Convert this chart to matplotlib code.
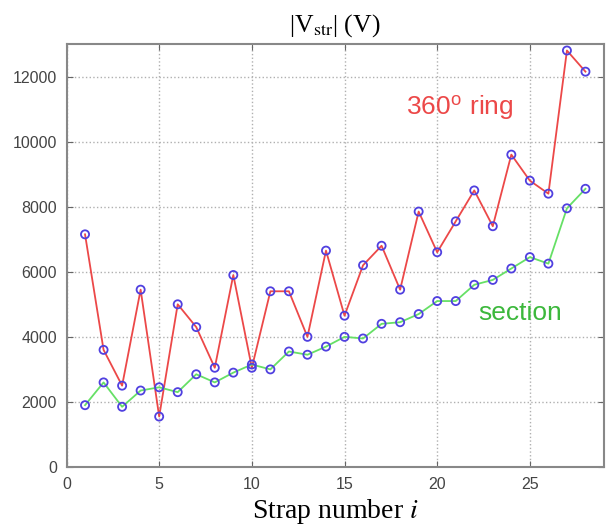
## strap voltage figure: 360 deg ring vs section
import matplotlib
matplotlib.use('Agg')
from matplotlib import pyplot as plt

# -----------------------------------------------------------------------------
# data
strap = list(range(1, 29))
v_ring = [7150, 3600, 2500, 5450, 1550, 5000, 4300, 3050, 5900, 3050,
          5400, 5400, 4000, 6650, 4650, 6200, 6800, 5450, 7850, 6600,
          7550, 8500, 7400, 9600, 8800, 8400, 12800, 12150]
v_sect = [1900, 2600, 1850, 2350, 2450, 2300, 2850, 2600, 2900, 3150,
          3000, 3550, 3450, 3700, 4000, 3950, 4400, 4450, 4700, 5100,
          5100, 5600, 5750, 6100, 6450, 6250, 7950, 8550]
xticks = [0, 5, 10, 15, 20, 25]
yticks = [0, 2000, 4000, 6000, 8000, 10000, 12000]

# -----------------------------------------------------------------------------
plt.rcParams['mathtext.fontset'] = 'stix'
fig = plt.figure(figsize=(6.07, 5.28), dpi=100)
ax = fig.add_axes([66.5/607, 1-467/528, (604-66.5)/607, (467-44)/528])

ax.plot(strap, v_ring, linestyle='-', linewidth=1.3, color='#ec4848')
ax.plot(strap, v_sect, linestyle='-', linewidth=1.3, color='#66e066')
ax.scatter(strap, v_ring, marker='o', s=34, facecolor='none',
    edgecolor='#5040e0', linewidth=1.3, zorder=3)
ax.scatter(strap, v_sect, marker='o', s=34, facecolor='none',
    edgecolor='#5040e0', linewidth=1.3, zorder=3)

ax.text(21.2, 11050, r'360$^{\mathregular{o}}$ ring', color='#ec4848',
    fontsize=19, family='Liberation Sans', ha='center', va='center')
ax.text(24.5, 4720, 'section', color='#3cb83c',
    fontsize=19, family='Liberation Sans', ha='center', va='center')

ax.set_xlim(0, 29)
ax.set_ylim(0, 13000)
ax.set_xticks(xticks)
ax.set_yticks(yticks)
ax.grid(True, linestyle=':', color='#b0b0b0', linewidth=1.0)
ax.tick_params(direction='in', top=True, right=True, labelsize=11.5,
    labelcolor='#444444', color='#666666', length=4, pad=7)
for lbl in ax.get_xticklabels() + ax.get_yticklabels():
    lbl.set_family('Liberation Sans')
for sp in ax.spines.values():
    sp.set_color('#888888'); sp.set_linewidth(1.5)

ax.set_title(r'|V$_{\rm str}$| (V)', family='Liberation Serif',
    fontsize=18.5, pad=9)
ax.set_xlabel(r'Strap number $i$', family='Liberation Serif', fontsize=20,
    labelpad=4)

fig.savefig('out.png', dpi=100)
